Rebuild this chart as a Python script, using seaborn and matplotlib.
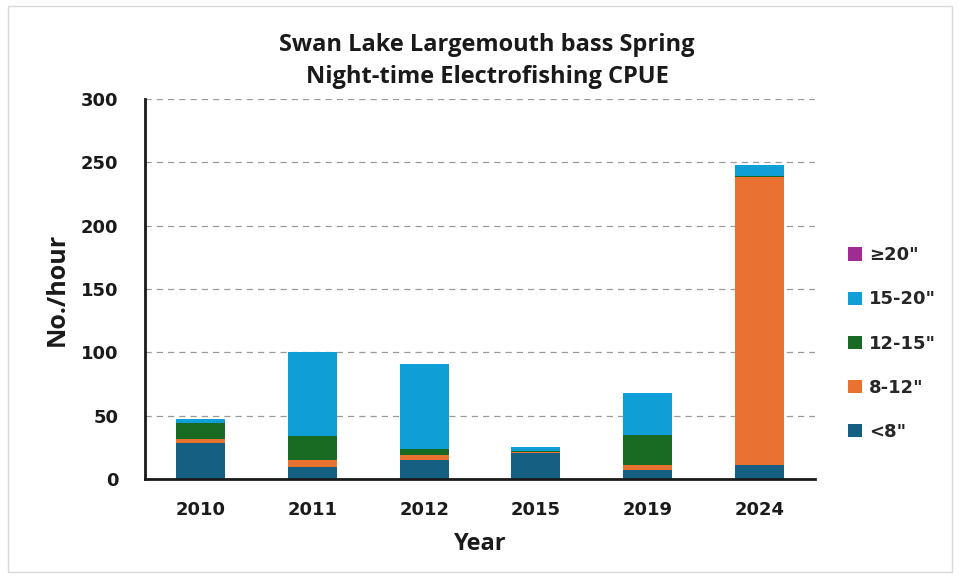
import numpy as np
import pandas as pd
import matplotlib
matplotlib.use("Agg")
import matplotlib.pyplot as plt
from matplotlib.patches import Rectangle
import seaborn as sns

# CPUE (fish per hour) by survey year and length group
years = ["2010", "2011", "2012", "2015", "2019", "2024"]
size_groups = ['≥20"', '15-20"', '12-15"', '8-12"', '<8"']
under_8 = [28.4, 9.5, 14.7, 20.5, 6.8, 10.8]
in_8_12 = [3.2, 5.2, 4.2, 1.0, 4.2, 227.5]
in_12_15 = [12.6, 19.0, 4.8, 0.8, 24.0, 1.0]
in_15_20 = [3.4, 66.3, 67.3, 2.7, 33.0, 8.5]
over_20 = [0.0, 0.0, 0.0, 0.0, 0.0, 0.0]

group_values = {
    '≥20"': over_20,
    '15-20"': in_15_20,
    '12-15"': in_12_15,
    '8-12"': in_8_12,
    '<8"': under_8,
}
group_colors = {
    '≥20"': "#A02B93",
    '15-20"': "#0F9ED5",
    '12-15"': "#196B24",
    '8-12"': "#E97132",
    '<8"': "#156082",
}

df = pd.DataFrame(
    [(y, g, v) for g in size_groups for y, v in zip(years, group_values[g])],
    columns=["Year", "Size", "CPUE"],
)
df["Year"] = pd.Categorical(df["Year"], categories=years, ordered=True)

sns.set_style("white")
plt.rcParams["font.family"] = ["Liberation Sans Narrow", "DejaVu Sans"]

fig = plt.figure(figsize=(9.59, 5.77), dpi=100)
ax = fig.add_axes([145 / 959, 1 - 479 / 577, (815 - 145) / 959, (479 - 99) / 577])

sns.histplot(
    data=df, x="Year", weights="CPUE", hue="Size", hue_order=size_groups,
    multiple="stack", discrete=True, shrink=0.44, palette=group_colors,
    alpha=1, edgecolor="none", linewidth=0, legend=False, ax=ax,
)

ax.set_xlim(-0.5, 5.5)
ax.set_ylim(0, 300)
ax.set_yticks(np.arange(0, 301, 50))
ax.set_axisbelow(True)
ax.yaxis.grid(True, linestyle=(0, (5, 4)), color="#9a9a9a", linewidth=0.9)
ax.xaxis.grid(False)

for side in ("top", "right"):
    ax.spines[side].set_visible(False)
for side in ("left", "bottom"):
    ax.spines[side].set_color("#1a1a1a")
    ax.spines[side].set_linewidth(2.0)

ax.tick_params(axis="both", length=0, labelsize=13, colors="#1a1a1a")
ax.tick_params(axis="y", pad=19)
ax.tick_params(axis="x", pad=16)
for lab in ax.get_xticklabels() + ax.get_yticklabels():
    lab.set_fontweight("bold")

ax.set_xlabel("Year", fontsize=17, fontweight="bold", family=["Open Sans", "DejaVu Sans"],
              labelpad=9, color="#1a1a1a")
ax.set_ylabel("No./hour", fontsize=18, fontweight="bold", family=["Open Sans", "DejaVu Sans"],
              labelpad=8, color="#1a1a1a")

fig.text(487 / 959, 1 - 61 / 577,
         "Swan Lake Largemouth bass Spring\nNight-time Electrofishing CPUE",
         ha="center", va="center", fontsize=17, fontweight="bold",
         family=["Open Sans", "DejaVu Sans"], linespacing=1.45, color="#1a1a1a")

handles = [Rectangle((0, 0), 1, 1, facecolor=group_colors[g], edgecolor="none") for g in size_groups]
leg = fig.legend(
    handles, size_groups, loc="upper left", bbox_to_anchor=(832 / 959, 1 - 230 / 577),
    frameon=False, handlelength=0.75, handleheight=0.75, handletextpad=0.4,
    labelspacing=1.45, prop={"size": 13, "weight": "bold",
                             "family": ["Liberation Sans Narrow", "DejaVu Sans"]},
)

# light frame around the chart area
fig.patches.append(Rectangle((8 / 959, 5 / 577), 944 / 959, 566 / 577, transform=fig.transFigure,
                             fill=False, edgecolor="#d9d9d9", linewidth=1.0))

fig.savefig("out.png", dpi=100)
